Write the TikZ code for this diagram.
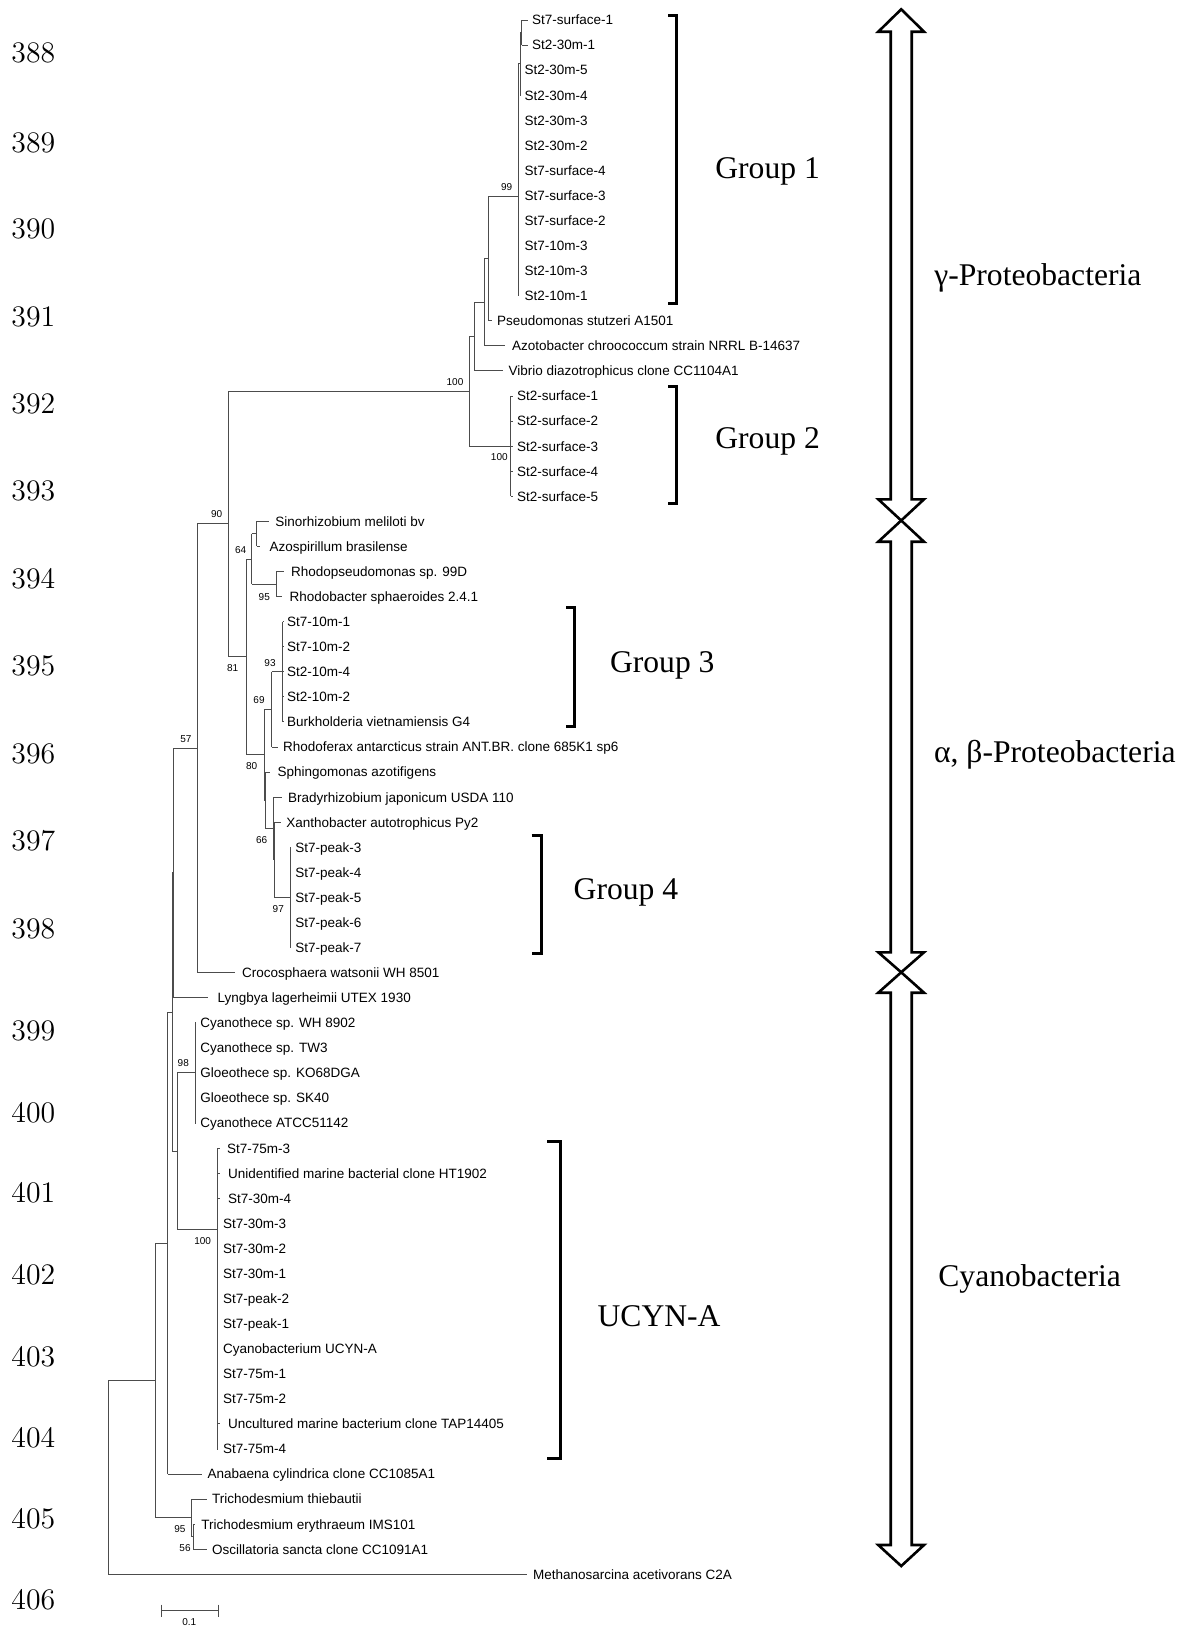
\documentclass[tikz,border=0pt]{standalone}
\usepackage{fontspec}
\newfontfamily\arialf{Liberation Sans}
\newfontfamily\timesf{Liberation Serif}
\definecolor{treegray}{gray}{0.3}
\begin{document}
\begin{tikzpicture}[x=0.5pt,y=-0.5pt]
\tikzset{
 br/.style={draw=treegray, line width=0.5pt},
 leaf/.style={anchor=west, inner sep=0pt, text height=4.85pt, text depth=0pt, font=\arialf\fontsize{6.75}{8}\selectfont},
 boot/.style={inner sep=0pt, text height=3.6pt, text depth=0pt, font=\arialf\fontsize{5}{6}\selectfont},
 grp/.style={anchor=west, inner sep=0pt, text height=10.4pt, text depth=0pt, font=\timesf\fontsize{15.8}{18}\selectfont},
 lnum/.style={anchor=west, inner sep=0pt, text height=9.6pt, text depth=0pt, font=\fontsize{14.9}{17}\selectfont},
 brk/.style={draw=black, line width=1.5pt},
 bigarrow/.style={draw=black, line width=1.3pt, line join=miter},
}
\useasboundingbox (0,0) rectangle (1184,1628);

% ---------- line numbers ----------
\foreach \n/\yy in {388/53.3,389/142.5,390/229,391/316.7,392/404,393/491.3,394/578.5,395/665.7,396/754,397/841.3,398/928.5,399/1031.3,400/1112.4,401/1193.3,402/1274.4,403/1356.4,404/1437.4,405/1518.4,406/1599.4}
  \node[lnum] (ln\n) at (11,\yy) {\n};

% ---------- leaves ----------
\foreach \i/\tx/\lx/\yy/\txt in {
 1/528.3/531.7/20.00/St7-surface-1,
 2/528.3/531.7/45.07/St2-30m-1,
 3/520.5/524.3/70.14/St2-30m-5,
 4/520.5/524.3/95.21/St2-30m-4,
 5/518.8/524.3/120.28/St2-30m-3,
 6/518.8/524.3/145.35/St2-30m-2,
 7/518.8/524.3/170.42/St7-surface-4,
 8/518.8/524.3/195.49/St7-surface-3,
 9/518.8/524.3/220.56/St7-surface-2,
 10/518.8/524.3/245.63/St7-10m-3,
 11/518.8/524.3/270.70/St2-10m-3,
 12/518.8/524.3/295.77/St2-10m-1,
 13/491.7/496.7/320.84/Pseudomonas stutzeri A1501,
 14/505/511.7/345.91/Azotobacter chroococcum strain NRRL B-14637,
 15/502.7/508.3/370.98/Vibrio diazotrophicus clone CC1104A1,
 16/513/516.7/396.05/St2-surface-1,
 17/513/516.7/421.12/St2-surface-2,
 18/513/516.7/446.19/St2-surface-3,
 19/513/516.7/471.26/St2-surface-4,
 20/513/516.7/496.33/St2-surface-5,
 21/269.3/275/521.40/Sinorhizobium meliloti bv,
 22/260/269.3/546.47/Azospirillum brasilense,
 23/284/290.7/571.54/Rhodopseudomonas sp. 99D,
 24/282/289.3/596.61/Rhodobacter sphaeroides 2.4.1,
 25/283.5/286.7/621.68/St7-10m-1,
 26/283.5/286.7/646.75/St7-10m-2,
 27/283.5/286.7/671.82/St2-10m-4,
 28/283.5/286.7/696.89/St2-10m-2,
 29/283.5/286.7/721.96/Burkholderia vietnamiensis G4,
 30/278.3/282.7/747.03/Rhodoferax antarcticus strain ANT.BR. clone 685K1 sp6,
 31/270/277.3/772.10/Sphingomonas azotifigens,
 32/281.7/287.7/797.17/Bradyrhizobium japonicum USDA 110,
 33/280.7/286/822.24/Xanthobacter autotrophicus Py2,
 34/291/295/847.31/St7-peak-3,
 35/291/295/872.38/St7-peak-4,
 36/291/295/897.45/St7-peak-5,
 37/291/295/922.52/St7-peak-6,
 38/291/295/947.59/St7-peak-7,
 39/235/241.7/972.66/Crocosphaera watsonii WH 8501,
 40/208.3/217.3/997.73/Lyngbya lagerheimii UTEX 1930,
 41/196/200/1022.80/Cyanothece sp. WH 8902,
 42/196/200/1047.87/Cyanothece sp. TW3,
 43/196/200/1072.94/Gloeothece sp. KO68DGA,
 44/196/200/1098.01/Gloeothece sp. SK40,
 45/196/200/1123.08/Cyanothece ATCC51142,
 46/220/226.7/1148.15/St7-75m-3,
 47/220/227.7/1173.22/Unidentified marine bacterial clone HT1902,
 48/220/227.7/1198.29/St7-30m-4,
 49/218/222.7/1223.36/St7-30m-3,
 50/218/222.7/1248.43/St7-30m-2,
 51/218/222.7/1273.50/St7-30m-1,
 52/218/222.7/1298.57/St7-peak-2,
 53/218/222.7/1323.64/St7-peak-1,
 54/218/222.7/1348.71/Cyanobacterium UCYN-A,
 55/218/222.7/1373.78/St7-75m-1,
 56/218/222.7/1398.85/St7-75m-2,
 57/220/227.7/1423.92/Uncultured marine bacterium clone TAP14405,
 58/218/222.7/1448.99/St7-75m-4,
 59/201.7/207.3/1474.06/Anabaena cylindrica clone CC1085A1,
 60/206.7/211.7/1499.13/Trichodesmium thiebautii,
 61/195.3/201/1524.20/Trichodesmium erythraeum IMS101,
 62/206.7/211.7/1549.27/Oscillatoria sancta clone CC1091A1,
 63/527.3/532.7/1574.34/Methanosarcina acetivorans C2A}
{
  \coordinate (l\i) at (\tx,\yy);
  \node[leaf] (t\i) at (\lx,\yy) {\txt};
}

% ---------- internal nodes ----------
\coordinate (n12) at (521.5,32.5);
\coordinate (n1a) at (520,63.9);
\coordinate (G1) at (518.3,196.7);
\coordinate (A1) at (488.3,258.8);
\coordinate (B1) at (484,302.3);
\coordinate (C1) at (474,336.6);
\coordinate (G2) at (510.7,446.19);
\coordinate (D1) at (469.3,391.4);
\coordinate (Sn) at (256.7,533.9);
\coordinate (Rh) at (276,584.1);
\coordinate (N64) at (251.7,559);
\coordinate (N93) at (282.7,671.82);
\coordinate (N69) at (271.7,709.4);
\coordinate (Pk) at (290,897.45);
\coordinate (NS) at (274.3,859.8);
\coordinate (N66) at (273.3,828.5);
\coordinate (NR) at (265,800.3);
\coordinate (N80) at (264.3,754.8);
\coordinate (N81) at (246,656.5);
\coordinate (E1) at (228.3,523.5);
\coordinate (F1) at (197.3,748.1);
\coordinate (N1) at (173.3,872.9);
\coordinate (Cy) at (195,1072.94);
\coordinate (UC) at (217.3,1229.3);
\coordinate (L1) at (177.3,1151.1);
\coordinate (M1) at (172.3,1012.1);
\coordinate (J1) at (167.7,1243.1);
\coordinate (N56) at (193.3,1536.7);
\coordinate (Tr) at (191,1517.9);
\coordinate (K1) at (155.7,1380.7);
\coordinate (Rt) at (108.3,1477.5);

% ---------- branches ----------
\foreach \p/\first/\last/\kids in {
 n12/l1/l2/{l1,l2},
 n1a/n12/l4/{n12,l3,l4},
 G1/n1a/l12/{n1a,l5,l6,l7,l8,l9,l10,l11,l12},
 A1/G1/l13/{G1,l13},
 B1/A1/l14/{A1,l14},
 C1/B1/l15/{B1,l15},
 G2/l16/l20/{l16,l17,l18,l19,l20},
 D1/C1/G2/{C1,G2},
 Sn/l21/l22/{l21,l22},
 Rh/l23/l24/{l23,l24},
 N64/Sn/Rh/{Sn,Rh},
 N93/l25/l29/{l25,l26,l27,l28,l29},
 N69/N93/l30/{N93,l30},
 Pk/l34/l38/{l34,l35,l36,l37,l38},
 NS/l33/Pk/{l33,Pk},
 N66/l32/NS/{l32,NS},
 NR/l31/N66/{l31,N66},
 N80/N69/NR/{N69,NR},
 N81/N64/N80/{N64,N80},
 E1/D1/N81/{D1,N81},
 F1/E1/l39/{E1,l39},
 N1/F1/l40/{F1,l40},
 Cy/l41/l45/{l41,l42,l43,l44,l45},
 UC/l46/l58/{l46,l47,l48,l49,l50,l51,l52,l53,l54,l55,l56,l57,l58},
 L1/Cy/UC/{Cy,UC},
 M1/N1/L1/{N1,L1},
 J1/M1/l59/{M1,l59},
 N56/l61/l62/{l61,l62},
 Tr/l60/N56/{l60,N56},
 K1/J1/Tr/{J1,Tr},
 Rt/K1/l63/{K1,l63}}
{
  \draw[br] (\p |- \first) -- (\p |- \last);
  \foreach \c in \kids { \draw[br] (\p |- \c) -- (\c); }
}

% ---------- bootstrap values ----------
\foreach \v/\bx/\by [count=\k] in {99/506.7/187.3, 100/455/381.7, 100/499.3/456.7, 90/216.7/514.3, 64/240.7/550, 95/264.3/596.7, 93/270/662.7, 81/232.7/668.3, 69/259/700, 57/186/739.3, 80/251.7/766, 66/261.7/840, 97/278.3/909.3, 98/183.3/1063.3, 100/202.7/1240.7, 95/180/1529.3, 56/185/1548.3}
  \node[boot] (bs\k) at (\bx,\by) {\v};

% ---------- brackets ----------
\draw[brk] (668.3,15) -- (676.7,15) -- (676.7,303.3) -- (668.3,303.3);
\draw[brk] (668.3,386.7) -- (676.7,386.7) -- (676.7,503.3) -- (668.3,503.3);
\draw[brk] (566,607.6) -- (574.3,607.6) -- (574.3,726) -- (566,726);
\draw[brk] (531.7,835) -- (541,835) -- (541,953.3) -- (531.7,953.3);
\draw[brk] (547.4,1141.4) -- (560.8,1141.4) -- (560.8,1458.2) -- (547.4,1458.2);

\node[grp] (g1) at (715,168) {Group 1};
\node[grp] (g2) at (715,438.3) {Group 2};
\node[grp] (g3) at (609.7,661.6) {Group 3};
\node[grp] (g4) at (573.3,889) {Group 4};
\node[grp] (g5) at (597.2,1316) {UCYN-A};

% ---------- class arrows ----------
\draw[bigarrow] (901.2,9.3) -- (924,31.7) -- (911.7,31.7) -- (911.7,499.3) -- (924,499.3) -- (901.2,520.5) -- (878.3,499.3) -- (890.7,499.3) -- (890.7,31.7) -- (878.3,31.7) -- cycle;
\draw[bigarrow] (901.2,520.5) -- (924,541.7) -- (911.7,541.7) -- (911.7,952.3) -- (924,952.3) -- (901.2,972.3) -- (878.3,952.3) -- (890.7,952.3) -- (890.7,541.7) -- (878.3,541.7) -- cycle;
\draw[bigarrow] (901.2,972.3) -- (924,992.7) -- (911.7,992.7) -- (911.7,1545) -- (924,1545) -- (901.2,1566) -- (878.3,1545) -- (890.7,1545) -- (890.7,992.7) -- (878.3,992.7) -- cycle;

\node[grp] (c1) at (934,275) {γ-Proteobacteria};
\node[grp] (c2) at (933.7,752) {α, β-Proteobacteria};
\node[grp] (c3) at (938,1276.5) {Cyanobacteria};

% ---------- scale bar ----------
\coordinate (sbL) at (161,1610.7);
\coordinate (sbR) at (218.3,1610.7);
\draw[br] (sbL) -- (sbR);
\draw[br] ([yshift=3pt]sbL) -- ([yshift=-3pt]sbL);
\draw[br] ([yshift=3pt]sbR) -- ([yshift=-3pt]sbR);
\node[boot] (sbt) at (189.3,1621.7) {0.1};
\end{tikzpicture}
\end{document}
